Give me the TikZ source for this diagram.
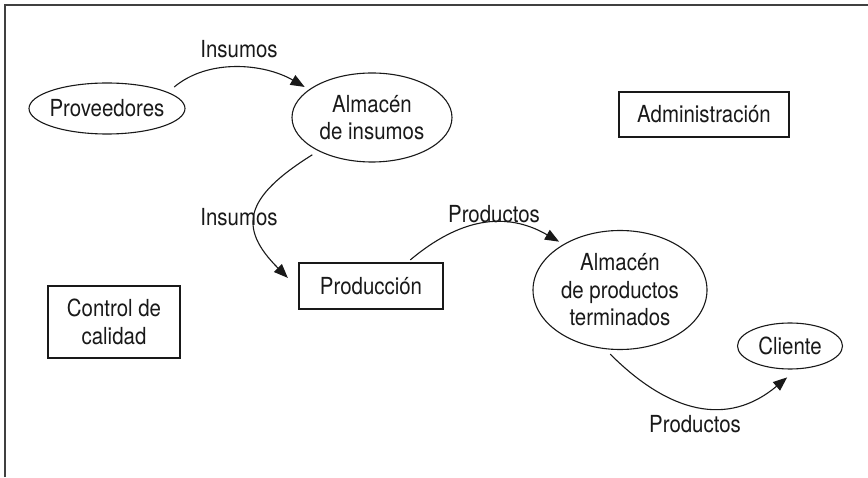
\documentclass[tikz,border=0pt]{standalone}
\usepackage{fontspec}
\setmainfont{TeX Gyre Heros}[FakeStretch=0.87]
\usetikzlibrary{arrows.meta,shapes.geometric}
\begin{document}
\begin{tikzpicture}[x=1pt,y=1pt,
  every node/.style={font=\fontsize{23.5}{27.5}\selectfont, inner sep=0pt, text=black!90, align=center},
  ell/.style={draw=black!90, ellipse, line width=1.1pt},
  box/.style={draw=black!90, rectangle, line width=1.1pt},
  arr/.style={draw=black!90, line width=1.1pt, -{Triangle[length=14pt,width=11pt]}},
  frameline/.style={line width=1.5pt, draw=black!75}]
\useasboundingbox (0,0) rectangle (868,477);
\draw[frameline] (5,0) -- (5,472) -- (868,472);

\node[ell, minimum width=156pt, minimum height=51pt, inner xsep=-3pt] (prov) at (107,368.5) {Proveedores};
\node[ell, minimum width=160pt, minimum height=89pt] (ai) at (372,359.5) {Almacén\\de insumos};
\node[box, minimum width=170pt, minimum height=45pt] (adm) at (704,362.5) {Administración};
\node[box, minimum width=144pt, minimum height=46pt] (prod) at (371,191) {Producción};
\node[ell, minimum width=174pt, minimum height=119pt] (apt) at (620,187) {Almacén\\de productos\\terminados};
\node[ell, minimum width=105pt, minimum height=46pt] (cli) at (790,131) {Cliente};
\node[box, minimum width=132pt, minimum height=72pt] (cc) at (114,155) {Control de\\calidad};

\node (l1) at (239,428) {Insumos};
\node (l2) at (239,260) {Insumos};
\node (l3) at (494,263) {Productos};
\node (l4) at (695,53) {Productos};

\draw[arr, shorten <=8pt, shorten >=5pt] (prov.15) to[out=40, in=150, looseness=0.95] (ai.156);
\draw[arr, shorten <=7pt, shorten >=15pt] (ai.212) to[out=212, in=135, looseness=1.6] (prod.182);
\draw[arr, shorten <=4pt, shorten >=5pt] (prod.33) to[out=40, in=150, looseness=1.1] (apt.141);
\draw[arr, shorten <=7pt, shorten >=12.5pt] (apt.256) to[out=-45, in=220, looseness=1.2] (cli.286);
\end{tikzpicture}
\end{document}
